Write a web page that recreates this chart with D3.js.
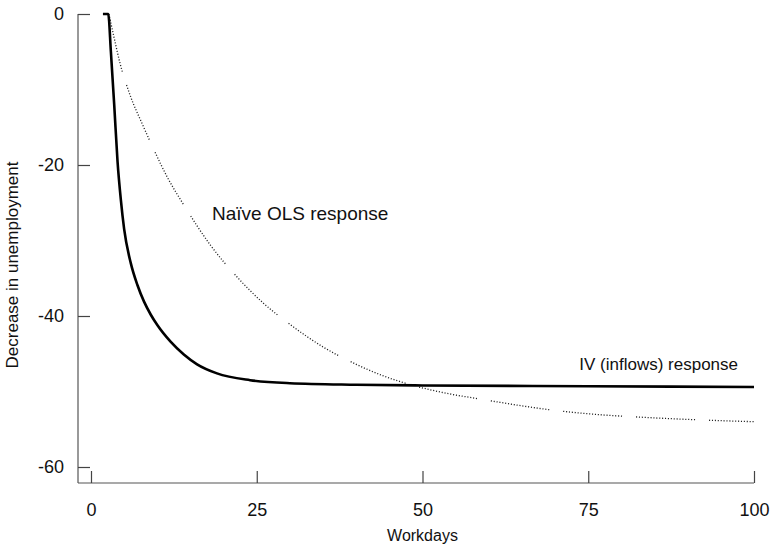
<!DOCTYPE html>
<html lang="en">
<head>
    <meta charset="UTF-8">
    <title>Decrease in unemployment</title>
    <script src="https://d3js.org/d3.v7.min.js"></script>
    <style>
        body { margin: 0; background: #fff; }
        text { font-family: "Liberation Sans", Arial, Helvetica, sans-serif; fill: #111; }
    </style>
</head>
<body>
    <div id="chart"></div>

    <script>
        // Data
        const ivDays = [1.8, 2.6, 3.0, 3.5, 4.0, 4.5, 5, 6, 7, 8, 9, 10, 12, 14, 16, 19, 24, 30, 40, 50, 75, 100];
        const ivValues = [0, 0, -5, -12, -19.5, -24.6, -28.5, -33, -35.9, -38.1, -39.8, -41.2, -43.4, -45.1, -46.4, -47.6, -48.5, -48.9, -49.1, -49.2, -49.3, -49.4];

        const olsDays = [2.7, 3.5, 4.4, 6, 7.7, 9.5, 11.5, 14, 18, 22, 26, 30, 35, 40, 44, 48.6, 54, 58.7, 65, 69, 75.7, 84, 93, 100];
        const olsValues = [0, -3.2, -6.6, -11, -14.5, -18, -21.6, -25.3, -30.6, -34.8, -38.3, -41.1, -44.1, -46.4, -47.9, -49.2, -50.3, -51, -51.9, -52.4, -53, -53.45, -53.8, -54];

        const xTicks = [0, 25, 50, 75, 100];
        const yTicks = [0, -20, -40, -60];

        const width = 770, height = 550;

        const svg = d3.select("#chart")
            .append("svg")
            .attr("width", width)
            .attr("height", height);

        // Scales
        const x = d3.scaleLinear().domain([0, 100]).range([91, 754]);
        const y = d3.scaleLinear().domain([-60, 0]).range([467, 14]);

        const axisX = 78, axisY = 483;

        // Axis lines
        svg.append("line")
            .attr("x1", axisX).attr("x2", axisX)
            .attr("y1", y(0)).attr("y2", axisY)
            .attr("stroke", "#555").attr("stroke-width", 1.2);
        svg.append("line")
            .attr("x1", axisX).attr("x2", x(100))
            .attr("y1", axisY).attr("y2", axisY)
            .attr("stroke", "#555").attr("stroke-width", 1.2);

        // Left axis, ticks pointing inward
        const gy = svg.append("g")
            .attr("transform", `translate(${axisX},0)`)
            .call(d3.axisLeft(y).tickValues(yTicks).tickSize(-12).tickPadding(14).tickFormat(d => String(d)));
        gy.select(".domain").remove();

        // Bottom axis, ticks pointing up
        const gx = svg.append("g")
            .attr("transform", `translate(0,${axisY})`)
            .call(d3.axisBottom(x).tickValues(xTicks).tickSize(-12).tickPadding(20).tickFormat(d => String(d)));
        gx.select(".domain").remove();

        svg.selectAll(".tick line").attr("stroke", "#444").attr("stroke-width", 1.2);
        svg.selectAll(".tick text").style("font-size", "18px").attr("fill", "#111");

        // Axis titles
        svg.append("text")
            .attr("x", x(50))
            .attr("y", 541)
            .attr("text-anchor", "middle")
            .style("font-size", "16px")
            .text("Workdays");

        svg.append("text")
            .attr("transform", "translate(18,265) rotate(-90)")
            .attr("text-anchor", "middle")
            .style("font-size", "17px")
            .text("Decrease in unemployment");

        const line = d3.line()
            .x(d => x(d[0]))
            .y(d => y(d[1]))
            .curve(d3.curveMonotoneX);

        // Dotted pattern: fine dots in runs separated by short gaps
        const dotRun = d3.range(20).map(() => "1.1 1.8").join(" ");
        const dashPattern = dotRun + " 1.1 14";

        svg.append("path")
            .datum(d3.zip(olsDays, olsValues))
            .attr("fill", "none")
            .attr("stroke", "#222")
            .attr("stroke-width", 1.3)
            .attr("stroke-dasharray", dashPattern)
            .attr("d", line);

        svg.append("path")
            .datum(d3.zip(ivDays, ivValues))
            .attr("fill", "none")
            .attr("stroke", "#000")
            .attr("stroke-width", 2.6)
            .attr("stroke-linejoin", "round")
            .attr("d", line);

        // Series labels
        svg.append("text")
            .attr("x", 212)
            .attr("y", 220)
            .style("font-size", "19px")
            .text("Naïve OLS response");

        svg.append("text")
            .attr("x", 738)
            .attr("y", 370)
            .attr("text-anchor", "end")
            .style("font-size", "17px")
            .text("IV (inflows) response");
    </script>
</body>
</html>
